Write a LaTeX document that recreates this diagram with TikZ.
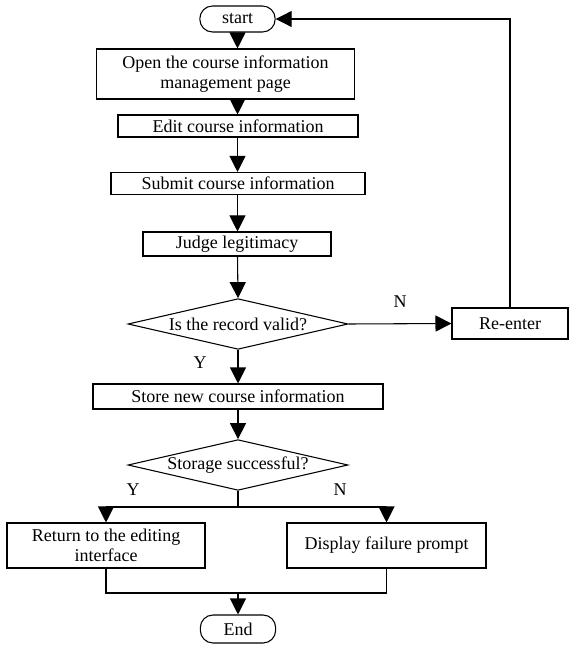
\documentclass[tikz,border=0pt]{standalone}
\usepackage{fontspec}
\setmainfont{Liberation Serif}
\usetikzlibrary{arrows.meta, shapes.geometric, positioning}

\begin{document}
\begin{tikzpicture}[x=0.75pt, y=-0.75pt, line width=0.8pt,
  font=\fontsize{13.5}{14.5}\selectfont,
  box/.style={draw, inner sep=1pt, align=center, minimum height=16.5pt},
  term/.style={draw, rounded corners=9.5pt, inner sep=1pt, minimum width=56.5pt},
  choice/.style={draw, diamond, aspect=4.3, inner sep=0pt, minimum width=165pt, minimum height=38pt},
  flow/.style={-{Triangle[length=12pt,width=12pt]}},
  lbl/.style={inner sep=0pt}]
\useasboundingbox (0,0) rectangle (569,645);
\node [term, minimum height=19.5pt] (start) at (237.5,19) {start};
\node [box, minimum width=194pt, minimum height=37.5pt] (open) at (225.5,74) {Open the course information\\management page};
\node [box, minimum width=180pt] (edit) at (238,126) {Edit course information};
\node [box, minimum width=190.5pt] (submit) at (238,183.5) {Submit course information};
\node [box, minimum width=141pt, minimum height=18pt] (judge) at (237,244) {Judge legitimacy};
\node [choice] (valid) at (238,324) {Is the record valid?};
\node [box, minimum width=87pt, minimum height=23.25pt] (reenter) at (510,323.5) {Re-enter};
\node [box, minimum width=217.5pt, minimum height=18.75pt] (store) at (238,396.5) {Store new course information};
\node [choice] (stored) at (238,465) {Storage successful?};
\node [box, minimum width=148.5pt, minimum height=33.75pt] (back) at (106,545.5) {Return to the editing\\interface};
\node [box, minimum width=149.25pt, minimum height=33.75pt] (fail) at (386.5,545.5) {Display failure prompt};
\node [term, minimum height=21pt] (end) at (238,629) {End};
\node [lbl] (yes1) at (200,363) {Y};
\node [lbl] (no1) at (400,302) {N};
\node [lbl] (yes2) at (133,490) {Y};
\node [lbl] (no2) at (340,490) {N};
\coordinate (split) at (238,507);
\coordinate (join) at (238,593);

\draw [flow] (start.south) -- (open.north -| start.south);
\draw [flow] (open.south -| start.south) -- (edit.north -| start.south);
\draw [flow] (edit.south -| start.south) -- (submit.north -| start.south);
\draw [flow] (submit.south -| start.south) -- (judge.north -| start.south);
\draw [flow] (judge.south -| start.south) -- (valid.north);
\draw [flow] (valid.south) -- (store.north -| valid.south);
\draw [flow] (store.south -| valid.south) -- (stored.north);
\draw [flow] (valid.east) -- (reenter.west);
\draw [flow] (reenter.north) |- (start.east);
\draw (stored.south) -- (split);
\draw [flow] (split) -| (back.north);
\draw [flow] (split) -| (fail.north);
\draw (back.south) |- (join) -| (fail.south);
\draw [flow] (join) -- (end.north);
\end{tikzpicture}
\end{document}
